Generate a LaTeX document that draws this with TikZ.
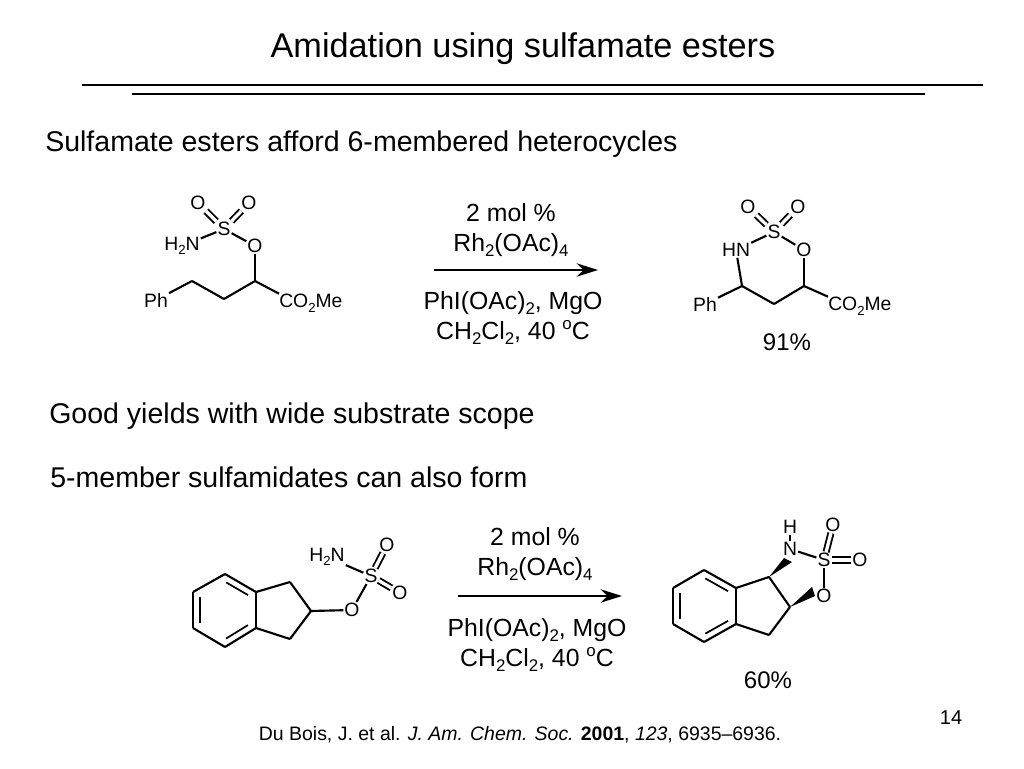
\documentclass[tikz,border=0pt]{standalone}
\usepackage{fontspec}
\setmainfont{Liberation Sans}
\usetikzlibrary{arrows.meta,calc,positioning}
\newcommand{\subs}[1]{\raisebox{-0.45ex}{\scalebox{0.68}{#1}}}
\newcommand{\sups}[1]{\raisebox{0.7ex}{\scalebox{0.68}{#1}}}
\tikzset{
  bond/.style={line width=1.6pt},
  ringbond/.style={line width=1.3pt,shorten >=4pt,shorten <=4pt},
  dbond/.style={line width=1.4pt,double,double distance=2.5pt},
  atom/.style={inner sep=0.7pt,font=\fontsize{14.5}{14.5}\selectfont},
  reagent/.style={align=center,inner sep=0pt,font=\fontsize{18.6}{22.5}\selectfont},
  heading/.style={anchor=west,inner sep=0pt,font=\fontsize{21.4}{22}\selectfont},
  yield/.style={inner sep=0pt,font=\fontsize{18}{18}\selectfont},
  rxnarrow/.style={line width=1.8pt,-{Stealth[length=16pt,width=10pt]}}
}
\begin{document}
\begin{tikzpicture}[x=0.75pt,y=-0.75pt]
\useasboundingbox (0,0) rectangle (1024,768);
%Titel und Linien
\node[inner sep=0pt,font=\fontsize{25.7}{26}\selectfont] (title) at (523,49) {Amidation using sulfamate esters};
\coordinate (ruleAa) at (82,85);
\coordinate (ruleAb) at (983,85);
\coordinate (ruleBa) at (132,94);
\coordinate (ruleBb) at (925,94);
\draw[line width=2pt] (ruleAa) -- (ruleAb);
\draw[line width=2pt] (ruleBa) -- (ruleBb);
\node[heading] (headA) at (45,144) {Sulfamate esters afford 6-membered heterocycles};
\node[heading] (headB) at (49,416) {Good yields with wide substrate scope};
\node[heading] (headC) at (50,477) {5-member sulfamidates can also form};
%Edukt oben
\node[atom] (oa) at (198,203) {O};
\node[atom] (ob) at (249,203) {O};
\node[atom] (s) at (224,229) {S};
\node[atom] (nh) at (182,246) {H\subs{2}N};
\node[atom] (o) at (255,246) {O};
\node[atom] (ph) at (156,300) {Ph};
\node[atom,anchor=west,inner sep=0pt] (est) at (279,303) {CO\subs{2}Me};
\coordinate (ca) at (255,281);
\coordinate (cb) at (224,299);
\coordinate (cc) at (192,281);
\foreach \a/\b in {s/nh,s/o,o/ca,ca/cb,cb/cc,cc/ph,ca/est.north west}
  \draw[bond] (\a) -- (\b);
\foreach \a in {oa,ob}
  \draw[dbond] (s) -- (\a);
%Produkt oben
\node[atom] (poa) at (748,207) {O};
\node[atom] (pob) at (798,207) {O};
\node[atom] (ps) at (774,232) {S};
\node[atom] (pn) at (736,250) {HN};
\node[atom] (po) at (804,250) {O};
\node[atom] (pph) at (705,304) {Ph};
\node[atom,anchor=west,inner sep=0pt] (pest) at (828,306) {CO\subs{2}Me};
\coordinate (pca) at (804,286);
\coordinate (pcb) at (774,304);
\coordinate (pcc) at (742,286);
\foreach \a/\b in {ps/pn,ps/po,po/pca,pca/pcb,pcb/pcc,pcc/pn,pcc/pph,pca/pest.north west}
  \draw[bond] (\a) -- (\b);
\foreach \a in {poa,pob}
  \draw[dbond] (ps) -- (\a);
%Bedingungen oben
\node[reagent] (condA) at (511,230) {2 mol \%\\Rh\subs{2}(OAc)\subs{4}};
\node[reagent] (condB) at (513,318) {PhI(OAc)\subs{2}, MgO\\CH\subs{2}Cl\subs{2}, 40 \sups{o}C};
\coordinate (arrAa) at (434,270);
\coordinate (arrAb) at (598,270);
\draw[rxnarrow] (arrAa) -- (arrAb);
\node[yield] (yieldA) at (787,342) {91\%};
%Edukt unten
\coordinate (ra) at (193,592);
\coordinate (rb) at (225,574);
\coordinate (rc) at (256,592);
\coordinate (rd) at (256,628);
\coordinate (re) at (225,647);
\coordinate (rf) at (193,628);
\coordinate (rg) at (290,582);
\coordinate (rh) at (311,611);
\coordinate (ri) at (290,639);
\node[atom] (ro) at (352,610) {O};
\node[atom] (rs) at (371,576) {S};
\node[atom] (rn) at (327,557) {H\subs{2}N};
\node[atom] (roa) at (387,545) {O};
\node[atom] (rob) at (400,593) {O};
\foreach \a/\b in {ra/rb,rb/rc,rc/rd,rd/re,re/rf,rf/ra,rc/rg,rg/rh,rh/ri,ri/rd,rh/ro,ro/rs,rs/rn}
  \draw[bond] (\a) -- (\b);
\foreach \a/\b in {rb/rc,rd/re,rf/ra}
  \draw[ringbond] ($(\a)!5pt!-90:(\b)$) -- ($(\b)!5pt!90:(\a)$);
\foreach \a in {roa,rob}
  \draw[dbond] (rs) -- (\a);
%Produkt unten
\coordinate (qa) at (673,588);
\coordinate (qb) at (704,570);
\coordinate (qc) at (736,588);
\coordinate (qd) at (736,624);
\coordinate (qe) at (704,642);
\coordinate (qf) at (673,624);
\coordinate (qg) at (769,577);
\coordinate (qh) at (790,607);
\coordinate (qi) at (769,635);
\node[atom] (qn) at (790,549) {N};
\node[atom] (qnh) at (790,527) {H};
\node[atom] (qs) at (824,560) {S};
\node[atom] (qoa) at (833,525) {O};
\node[atom] (qob) at (860,560) {O};
\node[atom] (qo) at (824,596) {O};
\foreach \a/\b in {qa/qb,qb/qc,qc/qd,qd/qe,qe/qf,qf/qa,qc/qg,qg/qh,qh/qi,qi/qd,qn/qs,qs/qo,qn/qnh}
  \draw[bond] (\a) -- (\b);
\foreach \a/\b in {qb/qc,qd/qe,qf/qa}
  \draw[ringbond] ($(\a)!5pt!-90:(\b)$) -- ($(\b)!5pt!90:(\a)$);
\foreach \a in {qoa,qob}
  \draw[dbond] (qs) -- (\a);
%Keile
\fill (qg) -- ($(qn)+(-6,9)$) -- ($(qn)+(2,13)$) -- cycle;
\fill (qh) -- ($(qo)+(-12,-9)$) -- ($(qo)+(-9,0)$) -- cycle;
%Bedingungen unten
\node[reagent] (condC) at (535,554) {2 mol \%\\Rh\subs{2}(OAc)\subs{4}};
\node[reagent] (condD) at (537,645) {PhI(OAc)\subs{2}, MgO\\CH\subs{2}Cl\subs{2}, 40 \sups{o}C};
\coordinate (arrBa) at (458,596);
\coordinate (arrBb) at (622,596);
\draw[rxnarrow] (arrBa) -- (arrBb);
\node[yield] (yieldB) at (768,680) {60\%};
%Fusszeile
\node[inner sep=0pt,font=\fontsize{15}{15}\selectfont] (page) at (951,718) {14};
\node[inner sep=0pt,font=\fontsize{14.6}{15}\selectfont] (refs) at (520,735) {Du Bois, J. et al. \textit{J. Am. Chem. Soc.} \textbf{2001}, \textit{123}, 6935–6936.};
\end{tikzpicture}
\end{document}
